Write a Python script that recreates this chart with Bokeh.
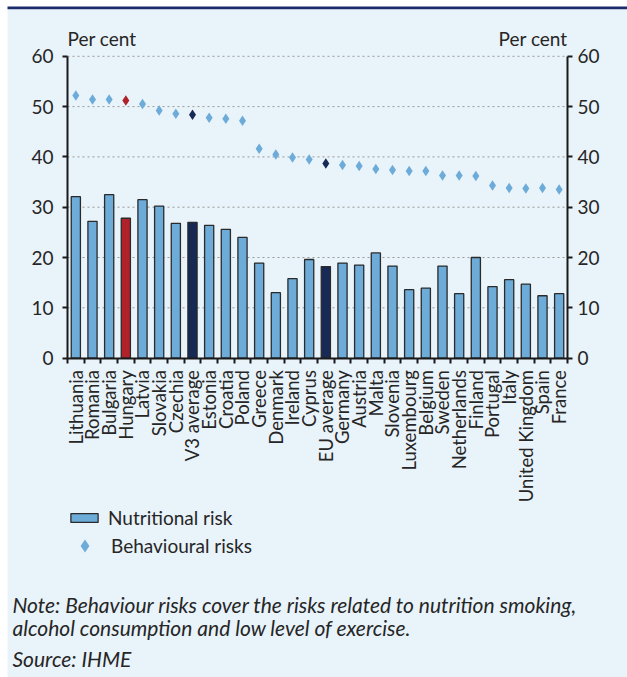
import math
from bokeh.plotting import figure
from bokeh.models import (Range1d, LinearAxis, FixedTicker, Label, Legend, LegendItem,
                          ColumnDataSource, BoxAnnotation)
from bokeh.embed import file_html
from bokeh.resources import INLINE

countries = ["Lithuania", "Romania", "Bulgaria", "Hungary", "Latvia", "Slovakia", "Czechia",
             "V3 average", "Estonia", "Croatia", "Poland", "Greece", "Denmark", "Ireland",
             "Cyprus", "EU average", "Germany", "Austria", "Malta", "Slovenia", "Luxembourg",
             "Belgium", "Sweden", "Netherlands", "Finland", "Portugal", "Italy",
             "United Kingdom", "Spain", "France"]
nutritional = [32.1, 27.2, 32.5, 27.8, 31.5, 30.2, 26.8, 27.0, 26.4, 25.6, 24.0, 18.9, 13.0,
               15.8, 19.6, 18.2, 18.9, 18.5, 20.9, 18.3, 13.6, 13.9, 18.3, 12.8, 20.0, 14.2,
               15.6, 14.7, 12.4, 12.8]
behavioural = [52.2, 51.4, 51.4, 51.2, 50.5, 49.2, 48.6, 48.4, 47.8, 47.6, 47.2, 41.6, 40.5,
               39.9, 39.5, 38.7, 38.4, 38.2, 37.6, 37.4, 37.2, 37.2, 36.3, 36.3, 36.2, 34.3,
               33.8, 33.7, 33.8, 33.5]
y_ticks = [0, 10, 20, 30, 40, 50, 60]
axis_title = "Per cent"
series_names = ["Nutritional risk", "Behavioural risks"]
note_lines = ["Note: Behaviour risks cover the risks related to nutrition smoking,",
              "alcohol consumption and low level of exercise."]
source_line = "Source: IHME"

BG = "#e9f3fa"
LIGHT = "#6dacd9"
NAVY = "#172a55"
RED = "#b0222a"
RULE = "#1c2a6e"
TXT = "#262626"
AX = "#1a1a1a"
FONT = "Lato"

W, H = 627, 677
# page-pixel layout of the plotting area
X0_PX, XU = 75.33, 16.667    # centre of first category, px per category
Y0_PX, YU = 357.6, 5.03      # y=0 position, px per percentage point

def dx(px):
    return (px - X0_PX) / XU

def dy(py):
    return (Y0_PX - py) / YU

def colour(name):
    if name == "Hungary":
        return RED
    if name in ("V3 average", "EU average"):
        return NAVY
    return LIGHT

n = len(countries)
xs = list(range(n))
src = ColumnDataSource(dict(x=xs, name=countries, nut=nutritional, beh=behavioural,
                            col=[colour(c) for c in countries]))

p = figure(width=W, height=H, x_range=Range1d(dx(0), dx(W)), y_range=Range1d(dy(H), dy(0)),
           output_backend="svg", toolbar_location=None, min_border=0,
           background_fill_color="white", border_fill_color="white", outline_line_color=None)
p.grid.visible = False

# panel background and top rule
p.add_layout(BoxAnnotation(left=dx(7), top=dy(8.7), fill_color=BG, fill_alpha=1,
                           line_color=None, level="underlay"))
p.add_layout(BoxAnnotation(left=dx(7), top=dy(6), bottom=dy(8.7), fill_color=RULE,
                           fill_alpha=1, line_color=None, level="underlay"))

# dotted gridlines between the two axes
for t in y_ticks[1:]:
    p.segment(x0=-0.5, x1=n - 0.5, y0=t, y1=t, line_color="#9a9a9a",
              line_dash="2 3", line_width=1)

# bottom axis
xa = p.xaxis[0]
xa.fixed_location = 0
xa.bounds = (-0.5, n - 0.5)
xa.ticker = FixedTicker(ticks=xs, minor_ticks=[i - 0.5 for i in range(n + 1)])
xa.major_label_overrides = {i: c for i, c in enumerate(countries)}
xa.major_label_orientation = math.pi / 2
xa.major_tick_in = 0
xa.major_tick_out = 0
xa.minor_tick_in = 0
xa.minor_tick_out = 5
xa.minor_tick_line_width = 2
xa.minor_tick_line_color = AX
xa.axis_line_width = 2
xa.axis_line_color = AX
xa.major_label_standoff = 7
xa.major_label_text_font = FONT
xa.major_label_text_font_size = "18.5px"
xa.major_label_text_color = TXT

def style_y(ax, loc, standoff):
    ax.fixed_location = loc
    ax.ticker = FixedTicker(ticks=y_ticks)
    ax.bounds = (y_ticks[0], y_ticks[-1])
    ax.axis_line_width = 2
    ax.axis_line_color = AX
    ax.major_tick_in = 0
    ax.major_tick_out = 5
    ax.major_tick_line_width = 2
    ax.major_tick_line_color = AX
    ax.minor_tick_out = 0
    ax.minor_tick_in = 0
    ax.major_label_standoff = standoff
    ax.major_label_text_font = FONT
    ax.major_label_text_font_size = "19px"
    ax.major_label_text_color = TXT

style_y(p.yaxis[0], -0.5, 9)
ra = LinearAxis()
style_y(ra, n - 0.5, 5)
p.add_layout(ra, "right")

bars = p.vbar(x="x", top="nut", width=0.55, source=src, fill_color="col",
              line_color="#2a2a2a", line_width=1.3)
dots = p.scatter(x="x", y="beh", source=src, marker="diamond", size=10.5,
                 fill_color="col", line_color=None)

for xpos, align in ((-0.5, "left"), (n - 0.5, "right")):
    p.add_layout(Label(x=xpos, y=dy(37.5), text=axis_title, text_align=align,
                       text_baseline="alphabetic", text_font=FONT, text_font_size="19px",
                       text_color=TXT))

# legend
leg1 = Legend(items=[LegendItem(label=series_names[0], renderers=[bars], index=0)],
              location=(67, H - 529), glyph_width=34, glyph_height=11, label_height=11,
              label_standoff=7, padding=0, margin=0, border_line_color=None,
              background_fill_alpha=0, label_text_font=FONT, label_text_font_size="19px",
              label_text_color=TXT)
leg2 = Legend(items=[LegendItem(label=series_names[1], renderers=[dots], index=0)],
              location=(68, H - 562), glyph_width=33, glyph_height=33, label_height=33,
              label_standoff=10, padding=0, margin=0, border_line_color=None,
              background_fill_alpha=0, label_text_font=FONT, label_text_font_size="19px",
              label_text_color=TXT)
p.add_layout(leg1, "center")
p.add_layout(leg2, "center")

# notes
for text, ybase in ((note_lines[0], 604), (note_lines[1], 627), (source_line, 658)):
    p.add_layout(Label(x=dx(12), y=dy(ybase), text=text, text_align="left",
                       text_baseline="alphabetic", text_font=FONT, text_font_size="21px",
                       text_font_style="italic", text_color=TXT))

open("out.html", "w").write(file_html(p, INLINE))
